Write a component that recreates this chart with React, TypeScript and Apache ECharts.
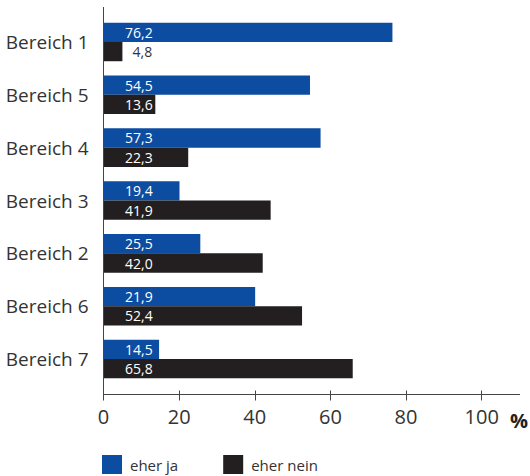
import React, { useEffect, useRef } from "react";
import * as echarts from "echarts";

const categories = ["Bereich 1", "Bereich 5", "Bereich 4", "Bereich 3", "Bereich 2", "Bereich 6", "Bereich 7"];
const jaValues = [76.4, 54.6, 57.4, 20.1, 25.6, 40.1, 14.7];
const neinValues = [5.0, 13.7, 22.4, 44.2, 42.1, 52.5, 65.9];
const jaLabels = ["76,2", "54,5", "57,3", "19,4", "25,5", "21,9", "14,5"];
const neinLabels = ["4,8", "13,6", "22,3", "41,9", "42,0", "52,4", "65,8"];
const tickValues = [0, 20, 40, 60, 80, 100];
const seriesNames = ["eher ja", "eher nein"];

const FONT = "'Open Sans', 'Noto Sans', sans-serif";
const BLUE = "#0c4da2";
const BLACK = "#231f20";
const AXIS = "#444444";

export default function App() {
  const ref = useRef<HTMLDivElement>(null);
  useEffect(() => {
    if (!ref.current) return;
    const chart = echarts.init(ref.current, null, { renderer: "svg" });
    const makeData = (vals: number[], labels: string[]) =>
      vals.map((v, i) =>
        v < 10
          ? { value: v, label: { formatter: labels[i], color: "#333333", distance: 29 } }
          : { value: v, label: { formatter: labels[i] } }
      );
    const baseX = {
      type: "value" as const,
      min: 0,
      max: 110,
      position: "bottom" as const,
      offset: 9,
      splitLine: { show: false },
      axisLine: { show: true, lineStyle: { color: AXIS, width: 1 } },
    };
    chart.setOption({
      animation: false,
      textStyle: { fontFamily: FONT },
      grid: { left: 103.5, right: 10.5, top: 15.5, bottom: 90.5, containLabel: false },
      xAxis: [
        {
          ...baseX,
          axisTick: { show: true, customValues: tickValues, length: 6, lineStyle: { color: AXIS } },
          axisLabel: {
            customValues: tickValues,
            fontSize: 20,
            color: "#333333",
            fontFamily: FONT,
            margin: 12,
          },
        },
        {
          ...baseX,
          axisTick: { show: true, inside: true, customValues: tickValues, length: 4, lineStyle: { color: AXIS } },
          axisLabel: { show: false },
        },
      ],
      yAxis: {
        type: "category",
        data: categories,
        inverse: true,
        axisLine: { show: false },
        axisTick: { show: false },
        axisLabel: { fontSize: 19, color: "#333333", fontFamily: FONT, margin: 15 },
      },
      legend: {
        left: 102,
        top: 455,
        padding: 0,
        itemWidth: 20,
        itemHeight: 19,
        itemGap: 45,
        icon: "rect",
        textStyle: { fontSize: 15, lineHeight: 19, color: "#333333", fontFamily: FONT, padding: [0, 0, 0, 3] },
        data: seriesNames,
      },
      series: [
        {
          name: seriesNames[0],
          type: "bar",
          barWidth: 19.3,
          barGap: "0%",
          itemStyle: { color: BLUE },
          label: {
            show: true,
            position: "insideLeft",
            distance: 21.5,
            color: "#ffffff",
            fontSize: 14,
            fontFamily: FONT,
          },
          data: makeData(jaValues, jaLabels),
        },
        {
          name: seriesNames[1],
          type: "bar",
          barWidth: 19.3,
          barGap: "0%",
          itemStyle: { color: BLACK },
          label: {
            show: true,
            position: "insideLeft",
            distance: 21.5,
            color: "#ffffff",
            fontSize: 14,
            fontFamily: FONT,
          },
          data: makeData(neinValues, neinLabels),
        },
      ],
      graphic: [
        {
          type: "line",
          shape: { x1: 103.5, y1: 7, x2: 103.5, y2: 394.5 },
          style: { stroke: AXIS, lineWidth: 1 },
          z: 10,
        },
        {
          type: "text",
          x: 510,
          y: 420,
          style: {
            text: "%",
            fontSize: 20,
            fontWeight: "bold",
            fontFamily: FONT,
            fill: "#222222",
            verticalAlign: "middle",
          },
        },
      ],
    });
    return () => chart.dispose();
  }, []);
  return <div ref={ref} style={{ width: 530, height: 476, position: "absolute", left: 0, top: 0 }} />;
}
